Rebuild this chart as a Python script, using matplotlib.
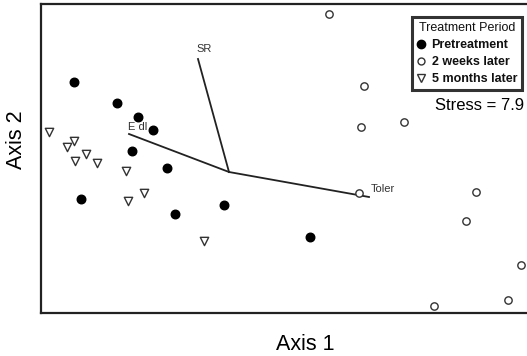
import matplotlib
matplotlib.use("Agg")
import matplotlib.pyplot as plt
from matplotlib.lines import Line2D

plt.rcParams['font.family'] = ['Liberation Sans', 'DejaVu Sans']

# Ordination scores (arbitrary axis units)
pre_x = [0.33, 0.76, 0.97, 1.12, 0.91, 1.26, 0.40, 1.34, 1.83, 2.69]
pre_y = [2.31, 2.10, 1.96, 1.83, 1.62, 1.45, 1.14, 0.99, 1.08, 0.76]

wk2_x = [2.88, 3.23, 3.20, 3.63, 3.18, 4.35, 4.25, 4.80, 4.67, 3.93]
wk2_y = [2.99, 2.27, 1.86, 1.91, 1.20, 1.21, 0.92, 0.48, 0.13, 0.07]

mo5_x = [0.08, 0.26, 0.33, 0.45, 0.34, 0.56, 0.85, 0.87, 1.03, 1.63]
mo5_y = [1.81, 1.66, 1.72, 1.59, 1.52, 1.50, 1.42, 1.12, 1.20, 0.72]

# Biplot vectors
vec_origin = (1.88, 1.41)
vec_names = ["SR", "E dl", "Toler"]
vec_end_x = [1.57, 0.88, 3.28]
vec_end_y = [2.54, 1.79, 1.16]
vec_label_x = [1.55, 0.87, 3.30]
vec_label_y = [2.64, 1.86, 1.24]

W, H = 527, 356
fig = plt.figure(figsize=(W / 100, H / 100), dpi=100)
ax = fig.add_axes([41 / W, (H - 313) / H, (531 - 41) / W, (313 - 4) / H])
ax.set_xlim(0, 4.90)
ax.set_ylim(0, 3.09)
ax.set_xticks([])
ax.set_yticks([])
for s in ax.spines.values():
    s.set_linewidth(1.6)
    s.set_color("#222222")

# vectors
for name, ex, ey, lx, ly in zip(vec_names, vec_end_x, vec_end_y, vec_label_x, vec_label_y):
    ax.plot([vec_origin[0], ex], [vec_origin[1], ey], color="#222222", lw=1.3, zorder=2)
    ax.text(lx, ly, name, fontsize=8, ha="left", va="center", color="#333333", zorder=2)

ax.scatter(pre_x, pre_y, s=38, marker="o", facecolor="black", edgecolor="black", zorder=3)
ax.scatter(wk2_x, wk2_y, s=28, marker="o", facecolor="white", edgecolor="#333333", linewidths=1.0, zorder=3)
ax.scatter(mo5_x, mo5_y, s=36, marker="v", facecolor="white", edgecolor="#333333", linewidths=1.0, zorder=3)

handles = [
    Line2D([], [], marker="o", color="black", ls="", markersize=6),
    Line2D([], [], marker="o", markerfacecolor="white", markeredgecolor="#333333", ls="", markersize=5),
    Line2D([], [], marker="v", markerfacecolor="white", markeredgecolor="#333333", ls="", markersize=5.5),
]
leg = ax.legend(handles, ["Pretreatment", "2 weeks later", "5 months later"],
                title="Treatment Period", loc="upper right",
                bbox_to_anchor=((522 - 41) / (531 - 41), (313 - 17) / (313 - 4)),
                fontsize=9, title_fontsize=9, frameon=True, fancybox=False,
                handlelength=0.7, handletextpad=0.5, borderpad=0.4,
                labelspacing=0.4, borderaxespad=0.0)
leg.get_frame().set_edgecolor("black")
leg.get_frame().set_linewidth(2.2)
leg.get_title().set_color("#111111")
for t in leg.get_texts():
    t.set_fontweight("bold")
    t.set_color("#111111")

ax.text((524 - 41) / 100, (313 - 106) / 100, "Stress = 7.9", fontsize=12, ha="right", va="center")

fig.text(305 / W, 1 - 344 / H, "Axis 1", fontsize=15.5, ha="center", va="center")
fig.text(17 / W, 1 - 140 / H, "Axis 2", fontsize=15.5, ha="center", va="center", rotation=90)

fig.savefig("out.png", dpi=100)
